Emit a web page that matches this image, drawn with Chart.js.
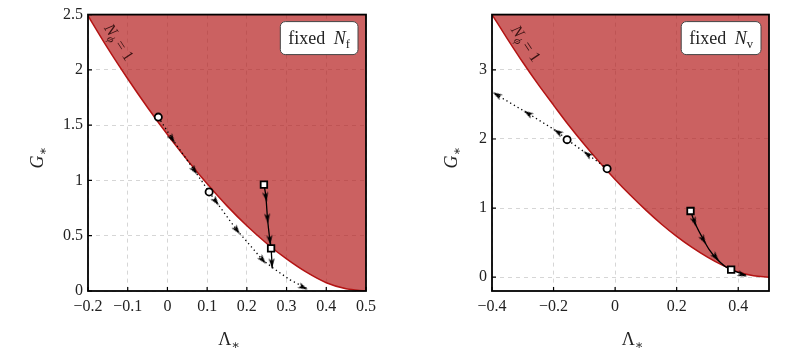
<!DOCTYPE html>
<html>
<head>
<meta charset="utf-8">
<script src="https://cdn.jsdelivr.net/npm/chart.js@4.4.1/dist/chart.umd.min.js"></script>
<style>
  html, body { margin: 0; padding: 0; background: #fff; }
  #wrap { position: relative; width: 802px; height: 354px; }
  #leftChart { position: absolute; left: 0; top: 0; }
  #rightChart { position: absolute; left: 400px; top: 0; }
</style>
</head>
<body>
<div id="wrap">
  <canvas id="leftChart" width="400" height="354"></canvas>
  <canvas id="rightChart" width="402" height="354"></canvas>
</div>
<script>
// N_phi = 1 boundary (same curve in both panels)
const boundLam = [-0.4, -0.35, -0.3, -0.25, -0.2, -0.15, -0.1, -0.05, 0, 0.05, 0.1, 0.15, 0.2, 0.25, 0.3, 0.35, 0.4, 0.45, 0.5];
const boundG = [3.8, 3.45, 3.11, 2.79, 2.49, 2.195, 1.92, 1.66, 1.415, 1.185, 0.97, 0.77, 0.59, 0.43, 0.29, 0.17, 0.075, 0.02, 0];

// left panel: fixed N_f
const leftXTicks = [-0.2, -0.1, 0, 0.1, 0.2, 0.3, 0.4, 0.5];
const leftXLabels = ['\u22120.2', '\u22120.1', '0', '0.1', '0.2', '0.3', '0.4', '0.5'];
const leftYTicks = [0, 0.5, 1, 1.5, 2, 2.5];
const leftYLabels = ['0', '0.5', '1', '1.5', '2', '2.5'];

const leftDot1Lam = [-0.023, 0.015, 0.07, 0.105];
const leftDot1G = [1.573, 1.36, 1.08, 0.896];
const leftDot1ArrLam = [0.012, 0.068];
const leftDot1ArrG = [1.375, 1.09];

const leftDot2Lam = [0.105, 0.12, 0.175, 0.24, 0.267, 0.309, 0.352];
const leftDot2G = [0.896, 0.82, 0.55, 0.28, 0.205, 0.1, 0.022];
const leftDot2ArrLam = [0.122, 0.175, 0.24, 0.342];
const leftDot2ArrG = [0.81, 0.55, 0.28, 0.033];

const leftSolidLam = [0.243, 0.248, 0.252, 0.258, 0.261, 0.264];
const leftSolidG = [0.963, 0.85, 0.656, 0.46, 0.385, 0.205];
const leftSolidArrLam = [0.248, 0.252, 0.258, 0.263];
const leftSolidArrG = [0.85, 0.656, 0.46, 0.25];

const leftCircLam = [-0.023, 0.105];
const leftCircG = [1.573, 0.896];
const leftSqLam = [0.243, 0.261];
const leftSqG = [0.963, 0.385];

// right panel: fixed N_v
const rightXTicks = [-0.4, -0.2, 0, 0.2, 0.4];
const rightXLabels = ['\u22120.4', '\u22120.2', '0', '0.2', '0.4'];
const rightYTicks = [0, 1, 2, 3];
const rightYLabels = ['0', '1', '2', '3'];

const rightDotLam = [-0.026, -0.093, -0.156, -0.185, -0.283, -0.393];
const rightDotG = [1.57, 1.79, 1.99, 2.1, 2.37, 2.66];
const rightDotArrLam = [-0.09, -0.186, -0.283, -0.384];
const rightDotArrG = [1.78, 2.1, 2.37, 2.64];

const rightSolidLam = [0.245, 0.258, 0.285, 0.307, 0.329, 0.356, 0.377, 0.425];
const rightSolidG = [0.958, 0.8, 0.56, 0.39, 0.27, 0.16, 0.11, 0.03];
const rightSolidArrLam = [0.258, 0.287, 0.327, 0.414];
const rightSolidArrG = [0.8, 0.54, 0.29, 0.035];

const rightCircLam = [-0.026, -0.156];
const rightCircG = [1.57, 1.99];
const rightSqLam = [0.245, 0.377];
const rightSqG = [0.958, 0.11];

const SERIF = '"Liberation Serif", "DejaVu Serif", serif';

function pts(xs, ys) {
    return xs.map((v, i) => ({ x: v, y: ys[i] }));
}

// arrow head drawn pointing up, rotated per point
function makeArrowHead() {
    const c = document.createElement('canvas');
    c.width = 6; c.height = 10;
    const g = c.getContext('2d');
    g.fillStyle = '#000';
    g.beginPath();
    g.moveTo(3, 0); g.lineTo(6, 10); g.lineTo(3, 7.5); g.lineTo(0, 10);
    g.closePath();
    g.fill();
    return c;
}
const arrowHead = makeArrowHead();

function segDist(px, py, ax, ay, bx, by) {
    const vx = bx - ax, vy = by - ay;
    let t = ((px - ax) * vx + (py - ay) * vy) / (vx * vx + vy * vy || 1);
    t = Math.max(0, Math.min(1, t));
    const dx = ax + t * vx - px, dy = ay + t * vy - py;
    return Math.sqrt(dx * dx + dy * dy);
}

// angle of the path segment nearest to the arrow point
function arrowRotation(c) {
    if (!c.raw) return 0;
    const xs = c.chart.scales.x, ys = c.chart.scales.y;
    const path = c.dataset.path;
    const px = xs.getPixelForValue(c.raw.x), py = ys.getPixelForValue(c.raw.y);
    let best = 0, bestD = Infinity;
    for (let k = 0; k < path.length - 1; k++) {
        const d = segDist(px, py,
            xs.getPixelForValue(path[k].x), ys.getPixelForValue(path[k].y),
            xs.getPixelForValue(path[k + 1].x), ys.getPixelForValue(path[k + 1].y));
        if (d < bestD) { bestD = d; best = k; }
    }
    const dx = xs.getPixelForValue(path[best + 1].x) - xs.getPixelForValue(path[best].x);
    const dy = ys.getPixelForValue(path[best + 1].y) - ys.getPixelForValue(path[best].y);
    return Math.atan2(dy, dx) * 180 / Math.PI + 90;
}

function fontFor(p, size) {
    const s = p.sub ? size * 0.7 : size;
    return (p.italic ? 'italic ' : '') + s + 'px ' + SERIF;
}
function measureRich(ctx, parts, size) {
    let w = 0;
    parts.forEach(p => { ctx.font = fontFor(p, size); w += ctx.measureText(p.t).width + (p.gap || 0); });
    return w;
}
function drawRich(ctx, parts, x, y, size) {
    let cx = x;
    parts.forEach(p => {
        ctx.font = fontFor(p, size);
        ctx.fillText(p.t, cx, y + (p.sub ? size * 0.22 : 0));
        cx += ctx.measureText(p.t).width + (p.gap || 0);
    });
}

// frame, inward ticks, titles, box label and the N_phi = 1 label
const decoPlugin = {
    id: 'deco',
    afterDatasetsDraw(chart, args, o) {
        const { ctx, chartArea: a, scales: { x, y } } = chart;
        ctx.save();
        ctx.strokeStyle = '#000';
        ctx.lineWidth = 1.2;
        ctx.beginPath();
        x.ticks.forEach(t => {
            const px = x.getPixelForValue(t.value);
            ctx.moveTo(px, a.bottom); ctx.lineTo(px, a.bottom - 4);
        });
        y.ticks.forEach(t => {
            const py = y.getPixelForValue(t.value);
            ctx.moveTo(a.left, py); ctx.lineTo(a.left + 4, py);
        });
        ctx.stroke();
        ctx.lineWidth = 1.8;
        ctx.strokeRect(a.left, a.top, a.right - a.left, a.bottom - a.top);

        // rotated curve label
        ctx.fillStyle = '#3a1212';
        const lp = [{ t: 'N', italic: true }, { t: '\u03d5', italic: true, sub: true, gap: 3 }, { t: '= 1' }];
        const lw = measureRich(ctx, lp, 16);
        ctx.save();
        ctx.translate(x.getPixelForValue(o.labelAt[0]), y.getPixelForValue(o.labelAt[1]));
        ctx.rotate(o.labelAngle * Math.PI / 180);
        drawRich(ctx, lp, -lw / 2, 5, 16);
        ctx.restore();

        // box label
        const bp = [{ t: 'fixed' }, { t: ' ', gap: 4 }, { t: 'N', italic: true }, { t: o.boxSub, sub: true }];
        const bw = measureRich(ctx, bp, 18) + 16;
        const bx = a.right - 8 - bw, by = a.top + 7;
        ctx.beginPath();
        ctx.roundRect(bx, by, bw, 33, 5);
        ctx.fillStyle = '#fff';
        ctx.fill();
        ctx.lineWidth = 1;
        ctx.strokeStyle = '#444';
        ctx.stroke();
        ctx.fillStyle = '#222';
        drawRich(ctx, bp, bx + 8, by + 22, 18);

        // axis titles
        ctx.fillStyle = '#222';
        const xt = [{ t: '\u039b' }, { t: '\u2217', sub: true }];
        const xw = measureRich(ctx, xt, 18);
        drawRich(ctx, xt, (a.left + a.right) / 2 - xw / 2 + 2, 345, 18);
        const yt = [{ t: 'G', italic: true }, { t: '\u2217', sub: true }];
        const yw = measureRich(ctx, yt, 18);
        ctx.save();
        ctx.translate(a.left - o.yTitleOffset, (a.top + a.bottom) / 2 + 5);
        ctx.rotate(-Math.PI / 2);
        drawRich(ctx, yt, -yw / 2, 0, 18);
        ctx.restore();
        ctx.restore();
    }
};

function createChart(id, cfg) {
    const dotted = { borderColor: '#000', borderWidth: 1.3, borderDash: [1.3, 3], pointRadius: 0, showLine: true, fill: false, order: 4 };
    const solid = { borderColor: '#000', borderWidth: 1.3, pointRadius: 0, showLine: true, fill: false, order: 4, cubicInterpolationMode: 'monotone' };
    const datasets = [{
        data: pts(boundLam, boundG),
        showLine: true,
        borderColor: '#b31414',
        borderWidth: 1.5,
        backgroundColor: 'rgba(178, 20, 20, 0.67)',
        fill: 'end',
        pointRadius: 0,
        cubicInterpolationMode: 'monotone',
        order: 10,
    }];
    cfg.dotted.forEach(p => datasets.push(Object.assign({ data: pts(p[0], p[1]) }, dotted)));
    cfg.solid.forEach(p => datasets.push(Object.assign({ data: pts(p[0], p[1]) }, solid)));
    cfg.arrows.forEach(p => datasets.push({
        data: pts(p[0], p[1]),
        path: pts(p[2], p[3]),
        showLine: false,
        pointStyle: arrowHead,
        rotation: arrowRotation,
        order: 2,
    }));
    datasets.push({
        data: pts(cfg.circles[0], cfg.circles[1]),
        showLine: false, pointStyle: 'circle', pointRadius: 3.6,
        pointBackgroundColor: '#fff', pointBorderColor: '#000', pointBorderWidth: 1.8, order: 1,
    });
    datasets.push({
        data: pts(cfg.squares[0], cfg.squares[1]),
        showLine: false, pointStyle: 'rect', pointRadius: 4.6,
        pointBackgroundColor: '#fff', pointBorderColor: '#000', pointBorderWidth: 1.8, order: 1,
    });

    return new Chart(document.getElementById(id), {
        type: 'scatter',
        data: { datasets: datasets },
        plugins: [decoPlugin],
        options: {
            responsive: false,
            animation: false,
            events: [],
            layout: { padding: { left: 0, top: 14, right: cfg.padRight, bottom: 0 } },
            plugins: {
                legend: { display: false },
                tooltip: { enabled: false },
                deco: { labelAt: cfg.labelAt, labelAngle: cfg.labelAngle, boxSub: cfg.boxSub, yTitleOffset: cfg.yTitleOffset },
            },
            scales: {
                x: {
                    type: 'linear', min: cfg.xMin, max: cfg.xMax,
                    afterBuildTicks: s => { s.ticks = cfg.xTicks.map(v => ({ value: v })); },
                    afterFit: s => { s.height = 63; },
                    ticks: { padding: 6, color: '#222', font: { family: SERIF, size: 16 }, maxRotation: 0, autoSkip: false,
                        callback: (v, i) => cfg.xLabels[i] },
                    grid: { color: '#d6d6d6', lineWidth: 1, drawTicks: false },
                    border: { display: false, dash: [4, 4] },
                },
                y: {
                    type: 'linear', min: cfg.yMin, max: cfg.yMax,
                    afterBuildTicks: s => { s.ticks = cfg.yTicks.map(v => ({ value: v })); },
                    afterFit: s => { s.width = cfg.yWidth; },
                    ticks: { padding: 5, color: '#222', font: { family: SERIF, size: 16 }, autoSkip: false,
                        callback: (v, i) => cfg.yLabels[i] },
                    grid: { color: '#d6d6d6', lineWidth: 1, drawTicks: false },
                    border: { display: false, dash: [4, 4] },
                },
            },
        },
    });
}

createChart('leftChart', {
    xMin: -0.2, xMax: 0.5, yMin: 0, yMax: 2.5,
    xTicks: leftXTicks, xLabels: leftXLabels, yTicks: leftYTicks, yLabels: leftYLabels,
    yWidth: 88, padRight: 34, yTitleOffset: 45,
    labelAt: [-0.122, 2.25], labelAngle: 57, boxSub: 'f',
    dotted: [[leftDot1Lam, leftDot1G], [leftDot2Lam, leftDot2G]],
    solid: [[leftSolidLam, leftSolidG]],
    arrows: [
        [leftDot1ArrLam, leftDot1ArrG, leftDot1Lam, leftDot1G],
        [leftDot2ArrLam, leftDot2ArrG, leftDot2Lam, leftDot2G],
        [leftSolidArrLam, leftSolidArrG, leftSolidLam, leftSolidG],
    ],
    circles: [leftCircLam, leftCircG],
    squares: [leftSqLam, leftSqG],
});

createChart('rightChart', {
    xMin: -0.4, xMax: 0.5, yMin: -0.2, yMax: 3.8,
    xTicks: rightXTicks, xLabels: rightXLabels, yTicks: rightYTicks, yLabels: rightYLabels,
    yWidth: 92, padRight: 33, yTitleOffset: 35,
    labelAt: [-0.29, 3.38], labelAngle: 56, boxSub: 'v',
    dotted: [[rightDotLam, rightDotG]],
    solid: [[rightSolidLam, rightSolidG]],
    arrows: [
        [rightDotArrLam, rightDotArrG, rightDotLam, rightDotG],
        [rightSolidArrLam, rightSolidArrG, rightSolidLam, rightSolidG],
    ],
    circles: [rightCircLam, rightCircG],
    squares: [rightSqLam, rightSqG],
});
</script>
</body>
</html>
